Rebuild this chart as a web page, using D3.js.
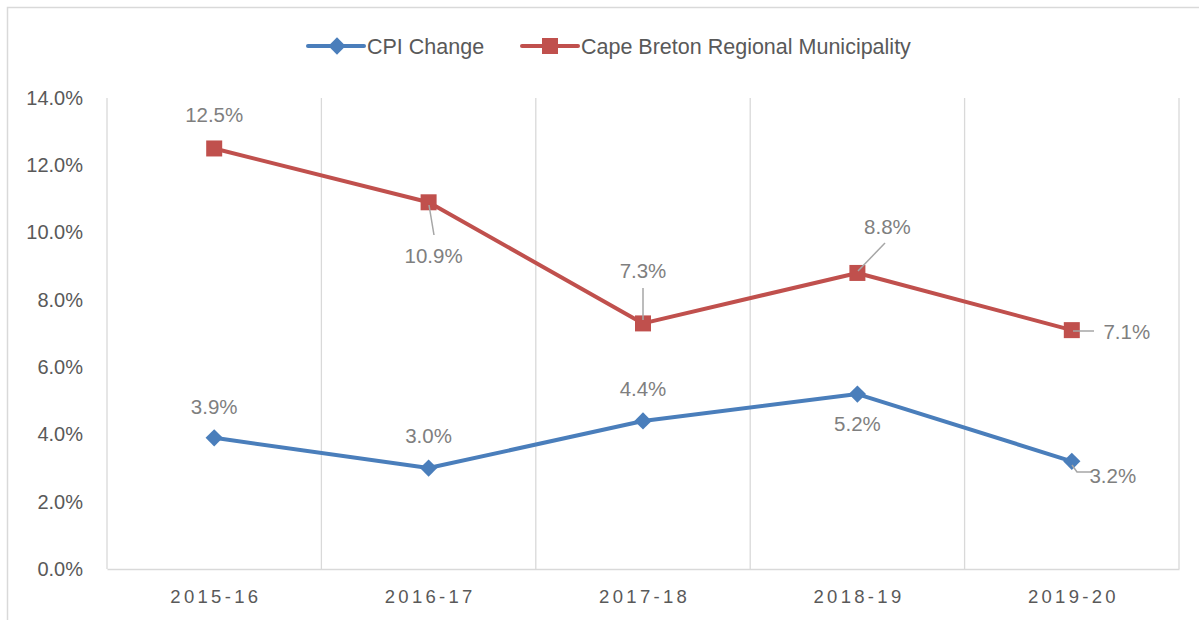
<!DOCTYPE html>
<html><head><meta charset="utf-8">
<script src="https://cdn.jsdelivr.net/npm/d3@7"></script>
<style>body{margin:0;background:#fff;}svg{display:block;font-family:"Liberation Sans",Arial,sans-serif;}</style>
</head><body>
<svg id="c" width="1199" height="620"></svg>
<script>
const categories = ["2015-16","2016-17","2017-18","2018-19","2019-20"];
const cpiChange = [3.9, 3.0, 4.4, 5.2, 3.2];
const cbrm = [12.5, 10.9, 7.3, 8.8, 7.1];
const yTicks = [0,2,4,6,8,10,12,14];
const seriesNames = ["CPI Change","Cape Breton Regional Municipality"];
const colors = ["#4a7ebb","#c0504d"];
// label placement offsets from point
const cpiLabelPos = [[0,-31],[0,-32],[0,-32],[0,30],[41,14]];
const cbrmLabelPos = [[0,-34],[5,54],[0,-53],[30,-46],[55,2]];

(function(){
const svg = d3.select("#c");
svg.append("rect").attr("x",7.5).attr("y",7.5).attr("width",1300).attr("height",700)
  .attr("fill","none").attr("stroke","#d9d9d9").attr("stroke-width",1.5);

const pL=107,pR=1179,pT=98,pB=569;
const x = d3.scaleBand().domain(categories).range([pL,pR]);
const y = d3.scaleLinear().domain([0,14]).range([pB,pT]);

const bounds = categories.map(c=>x(c)).concat([pR]);
svg.append("g").selectAll("line").data(bounds).join("line")
  .attr("x1",d=>d).attr("x2",d=>d).attr("y1",pT).attr("y2",pB)
  .attr("stroke","#d9d9d9").attr("stroke-width",1.3);

const xa = svg.append("g").attr("transform",`translate(0,${pB})`).call(d3.axisBottom(x).tickSize(0).tickPadding(18));
xa.select(".domain").attr("stroke","#d9d9d9").attr("stroke-width",1.5);
xa.selectAll("text").attr("fill","#595959").attr("font-size",18.5).attr("letter-spacing","3.3px").attr("dx","1.6px").attr("dy","0.85em");

const ya = svg.append("g").attr("transform",`translate(${pL},0)`)
  .call(d3.axisLeft(y).tickValues(yTicks).tickSize(0).tickPadding(24).tickFormat(d=>d.toFixed(1)+"%"));
ya.select(".domain").remove();
ya.selectAll("text").attr("fill","#595959").attr("font-size",20);

const cx = c=>x(c)+x.bandwidth()/2;
const line = d3.line().x((d,i)=>cx(categories[i])).y(d=>y(d));

function drawSeries(vals,color,marker){
  svg.append("path").datum(vals).attr("d",line).attr("fill","none")
    .attr("stroke",color).attr("stroke-width",4).attr("stroke-linejoin","round");
  const g = svg.append("g");
  vals.forEach((v,i)=>{
    const px=cx(categories[i]), py=y(v);
    if(marker==="diamond"){
      g.append("path").attr("d",d3.symbol(d3.symbolDiamond2,190)()).attr("transform",`translate(${px},${py})`).attr("fill",color);
    } else {
      g.append("rect").attr("x",px-8).attr("y",py-8).attr("width",16).attr("height",16).attr("fill",color);
    }
  });
}
drawSeries(cpiChange,colors[0],"diamond");
drawSeries(cbrm,colors[1],"square");

const leaders = [
  [[429,205],[434,235]],
  [[643,320],[643,288]],
  [[858,271],[885,243]],
  [[1073,331],[1094,331]],
  [[1072,465],[1077,472],[1091,472]]
];
svg.append("g").selectAll("path").data(leaders).join("path")
  .attr("d",d=>d3.line()(d)).attr("fill","none").attr("stroke","#a6a6a6").attr("stroke-width",1.5);

function drawLabels(vals,pos){
  svg.append("g").selectAll("text").data(vals).join("text")
    .attr("x",(d,i)=>cx(categories[i])+pos[i][0])
    .attr("y",(d,i)=>y(d)+pos[i][1])
    .attr("dy","0.35em").attr("text-anchor","middle")
    .attr("fill","#7f7f7f").attr("font-size",20.5)
    .text(d=>d.toFixed(1)+"%");
}
drawLabels(cpiChange,cpiLabelPos);
drawLabels(cbrm,cbrmLabelPos);

const lg = svg.append("g");
const legendItems = [{x:308,w:56,m:337},{x:522,w:56,m:550}];
seriesNames.forEach((n,i)=>{
  const it = legendItems[i];
  lg.append("line").attr("x1",it.x).attr("x2",it.x+it.w).attr("y1",46).attr("y2",46)
    .attr("stroke",colors[i]).attr("stroke-width",4).attr("stroke-linecap","round");
  if(i===0) lg.append("path").attr("d",d3.symbol(d3.symbolDiamond2,190)()).attr("transform",`translate(${it.m},46)`).attr("fill",colors[i]);
  else lg.append("rect").attr("x",it.m-8).attr("y",38).attr("width",16).attr("height",16).attr("fill",colors[i]);
  lg.append("text").attr("x",it.x+it.w+3).attr("y",46).attr("dy","0.35em")
    .attr("fill","#595959").attr("font-size",21.5).text(n);
});
})();
</script>
</body></html>
